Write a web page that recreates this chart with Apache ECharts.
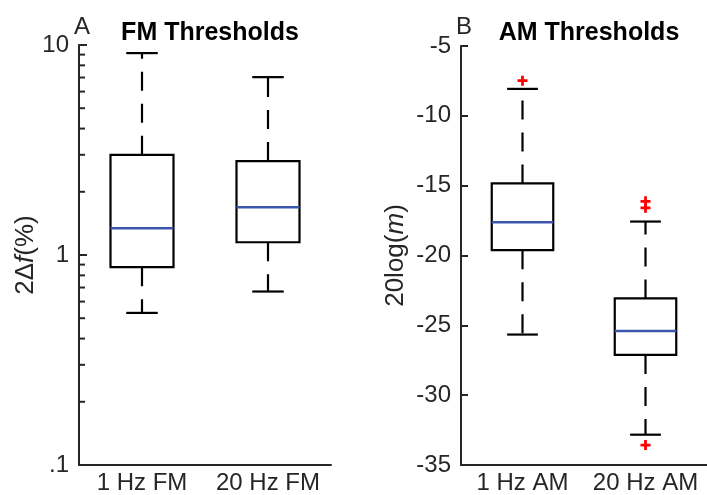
<!DOCTYPE html>
<html>
<head>
<meta charset="utf-8">
<script src="https://cdn.jsdelivr.net/npm/echarts@6/dist/echarts.min.js"></script>
<style>
html, body { margin: 0; padding: 0; background: #fff; }
#chart { width: 707px; height: 495px; }
</style>
</head>
<body>
<div id="chart"></div>
<script>
// panel A - FM thresholds, log scale
const fmCats = ['1 Hz FM', '20 Hz FM'];
const fmLow = [0.53, 0.67];
const fmQ1 = [0.875, 1.15];
const fmMed = [1.34, 1.69];
const fmQ3 = [3.0, 2.8];
const fmHigh = [9.15, 7.03];
const fmTickLabels = ['.1', '1', '10'];
const fmMinorTicks = [0.2, 0.3, 0.4, 0.5, 0.6, 0.7, 0.8, 0.9, 2, 3, 4, 5, 6, 7, 8, 9];

// panel B - AM thresholds
const amCats = ['1 Hz AM', '20 Hz AM'];
const amLow = [-25.66, -32.83];
const amQ1 = [-19.62, -27.12];
const amMed = [-17.62, -25.41];
const amQ3 = [-14.84, -23.07];
const amHigh = [-8.07, -17.57];
const amOutCat = [0, 1, 1, 1];
const amOutVal = [-7.48, -16.12, -16.59, -33.57];

const font = "'Liberation Sans', Arial, sans-serif";
const ink = '#262626';

function boxRows(low, q1, med, q3, high) {
   return low.map((v, i) => [i, v, q1[i], med[i], q3[i], high[i]]);
}

function renderBox(params, api) {
   const i = api.value(0);
   const low = api.coord([i, api.value(1)]);
   const q1 = api.coord([i, api.value(2)]);
   const med = api.coord([i, api.value(3)]);
   const q3 = api.coord([i, api.value(4)]);
   const high = api.coord([i, api.value(5)]);
   const band = api.size([1, 0], [i, 1])[0];
   const bw = band * 0.25;  // half box width
   const cw = band * 0.125; // half cap width
   const x = low[0];
   const solid = { stroke: '#000', lineWidth: 2.2, fill: 'none' };
   const dashed = { stroke: '#000', lineWidth: 2.2, lineDash: [19, 13] };
   return {
      type: 'group',
      children: [
         { type: 'line', shape: { x1: x, y1: q3[1], x2: x, y2: high[1] }, style: dashed },
         { type: 'line', shape: { x1: x, y1: q1[1], x2: x, y2: low[1] }, style: dashed },
         { type: 'line', shape: { x1: x - cw, y1: high[1], x2: x + cw, y2: high[1] }, style: solid },
         { type: 'line', shape: { x1: x - cw, y1: low[1], x2: x + cw, y2: low[1] }, style: solid },
         { type: 'rect', shape: { x: x - bw, y: q3[1], width: 2 * bw, height: q1[1] - q3[1] }, style: solid },
         { type: 'line', shape: { x1: x - bw, y1: med[1], x2: x + bw, y2: med[1] }, style: { stroke: '#3d56ad', lineWidth: 2.5 } }
      ]
   };
}

// minor ticks of the log axis, placed through the log scale
function renderMinorTick(params, api) {
   const p = api.coord([0, api.value(1)]);
   const x0 = params.coordSys.x;
   return {
      type: 'line',
      shape: { x1: x0, y1: p[1], x2: x0 + 6, y2: p[1] },
      style: { stroke: ink, lineWidth: 2 }
   };
}

const chart = echarts.init(document.getElementById('chart'));

const xAxisBase = {
   type: 'category',
   axisLine: { onZero: false, lineStyle: { color: ink, width: 2 } },
   axisTick: { inside: true, alignWithLabel: true, length: 4, lineStyle: { color: ink, width: 2 } },
   axisLabel: { color: ink, fontSize: 24, fontFamily: font, margin: 6, interval: 0, hideOverlap: false },
   splitLine: { show: false }
};

const option = {
   animation: false,
   backgroundColor: '#fff',
   title: [
      { text: 'FM Thresholds', left: 205, textAlign: 'center', top: 16,
        textStyle: { fontSize: 25, fontWeight: 'bold', color: '#000', fontFamily: font } },
      { text: 'AM Thresholds', left: 584, textAlign: 'center', top: 16,
        textStyle: { fontSize: 25, fontWeight: 'bold', color: '#000', fontFamily: font } },
      { text: 'A', left: 69, top: 10, textStyle: { fontSize: 24, fontWeight: 'normal', color: ink, fontFamily: font } },
      { text: 'B', left: 451, top: 10, textStyle: { fontSize: 24, fontWeight: 'normal', color: ink, fontFamily: font } }
   ],
   grid: [
      { left: 79, right: 376, top: 45, bottom: 29 },
      { left: 461, right: -7, top: 46, bottom: 29 }
   ],
   xAxis: [
      Object.assign({ gridIndex: 0, data: fmCats }, xAxisBase),
      Object.assign({ gridIndex: 1, data: amCats }, xAxisBase)
   ],
   yAxis: [
      {
         type: 'log', logBase: 10, gridIndex: 0, position: 'left', min: 0.1, max: 10,
         name: '{n|2Δ}{i|f}{n|(%)}', nameLocation: 'middle', nameGap: 40, nameRotate: 90,
         nameTextStyle: {
            rich: {
               n: { fontSize: 26, color: ink, fontFamily: font },
               i: { fontSize: 26, color: ink, fontFamily: font, fontStyle: 'italic' }
            }
         },
         axisLine: { show: true, lineStyle: { color: ink, width: 2 } },
         axisTick: { show: true, inside: true, length: 8, lineStyle: { color: ink, width: 2 } },
         axisLabel: {
            color: ink, fontSize: 24, fontFamily: font, margin: 10,
            formatter: v => fmTickLabels[Math.round(Math.log10(v)) + 1]
         },
         splitLine: { show: false }
      },
      {
         type: 'value', gridIndex: 1, position: 'left', min: -35, max: -5, interval: 5,
         name: '{n|20log(}{i|m}{n|)}', nameLocation: 'middle', nameGap: 52, nameRotate: 90,
         nameTextStyle: {
            rich: {
               n: { fontSize: 26, color: ink, fontFamily: font },
               i: { fontSize: 26, color: ink, fontFamily: font, fontStyle: 'italic' }
            }
         },
         axisLine: { show: true, lineStyle: { color: ink, width: 2 } },
         axisTick: { show: true, inside: true, length: 7, lineStyle: { color: ink, width: 2 } },
         axisLabel: { color: ink, fontSize: 24, fontFamily: font, margin: 10 },
         splitLine: { show: false }
      }
   ],
   series: [
      {
         type: 'custom', xAxisIndex: 0, yAxisIndex: 0,
         renderItem: renderMinorTick,
         encode: { x: 0, y: 1 },
         data: fmMinorTicks.map(v => [0, v])
      },
      {
         type: 'custom', xAxisIndex: 0, yAxisIndex: 0,
         renderItem: renderBox,
         encode: { x: 0, y: [1, 2, 3, 4, 5] },
         data: boxRows(fmLow, fmQ1, fmMed, fmQ3, fmHigh)
      },
      {
         type: 'custom', xAxisIndex: 1, yAxisIndex: 1,
         renderItem: renderBox,
         encode: { x: 0, y: [1, 2, 3, 4, 5] },
         data: boxRows(amLow, amQ1, amMed, amQ3, amHigh)
      },
      {
         type: 'scatter', xAxisIndex: 1, yAxisIndex: 1,
         symbol: 'path://M3.4 0h2.6v3.4h3.4v2.6h-3.4v3.4h-2.6v-3.4h-3.4v-2.6h3.4z',
         symbolSize: 10,
         itemStyle: { color: '#ff0000', opacity: 1 },
         data: amOutVal.map((v, i) => [amOutCat[i], v])
      }
   ]
};

chart.setOption(option);
</script>
</body>
</html>
